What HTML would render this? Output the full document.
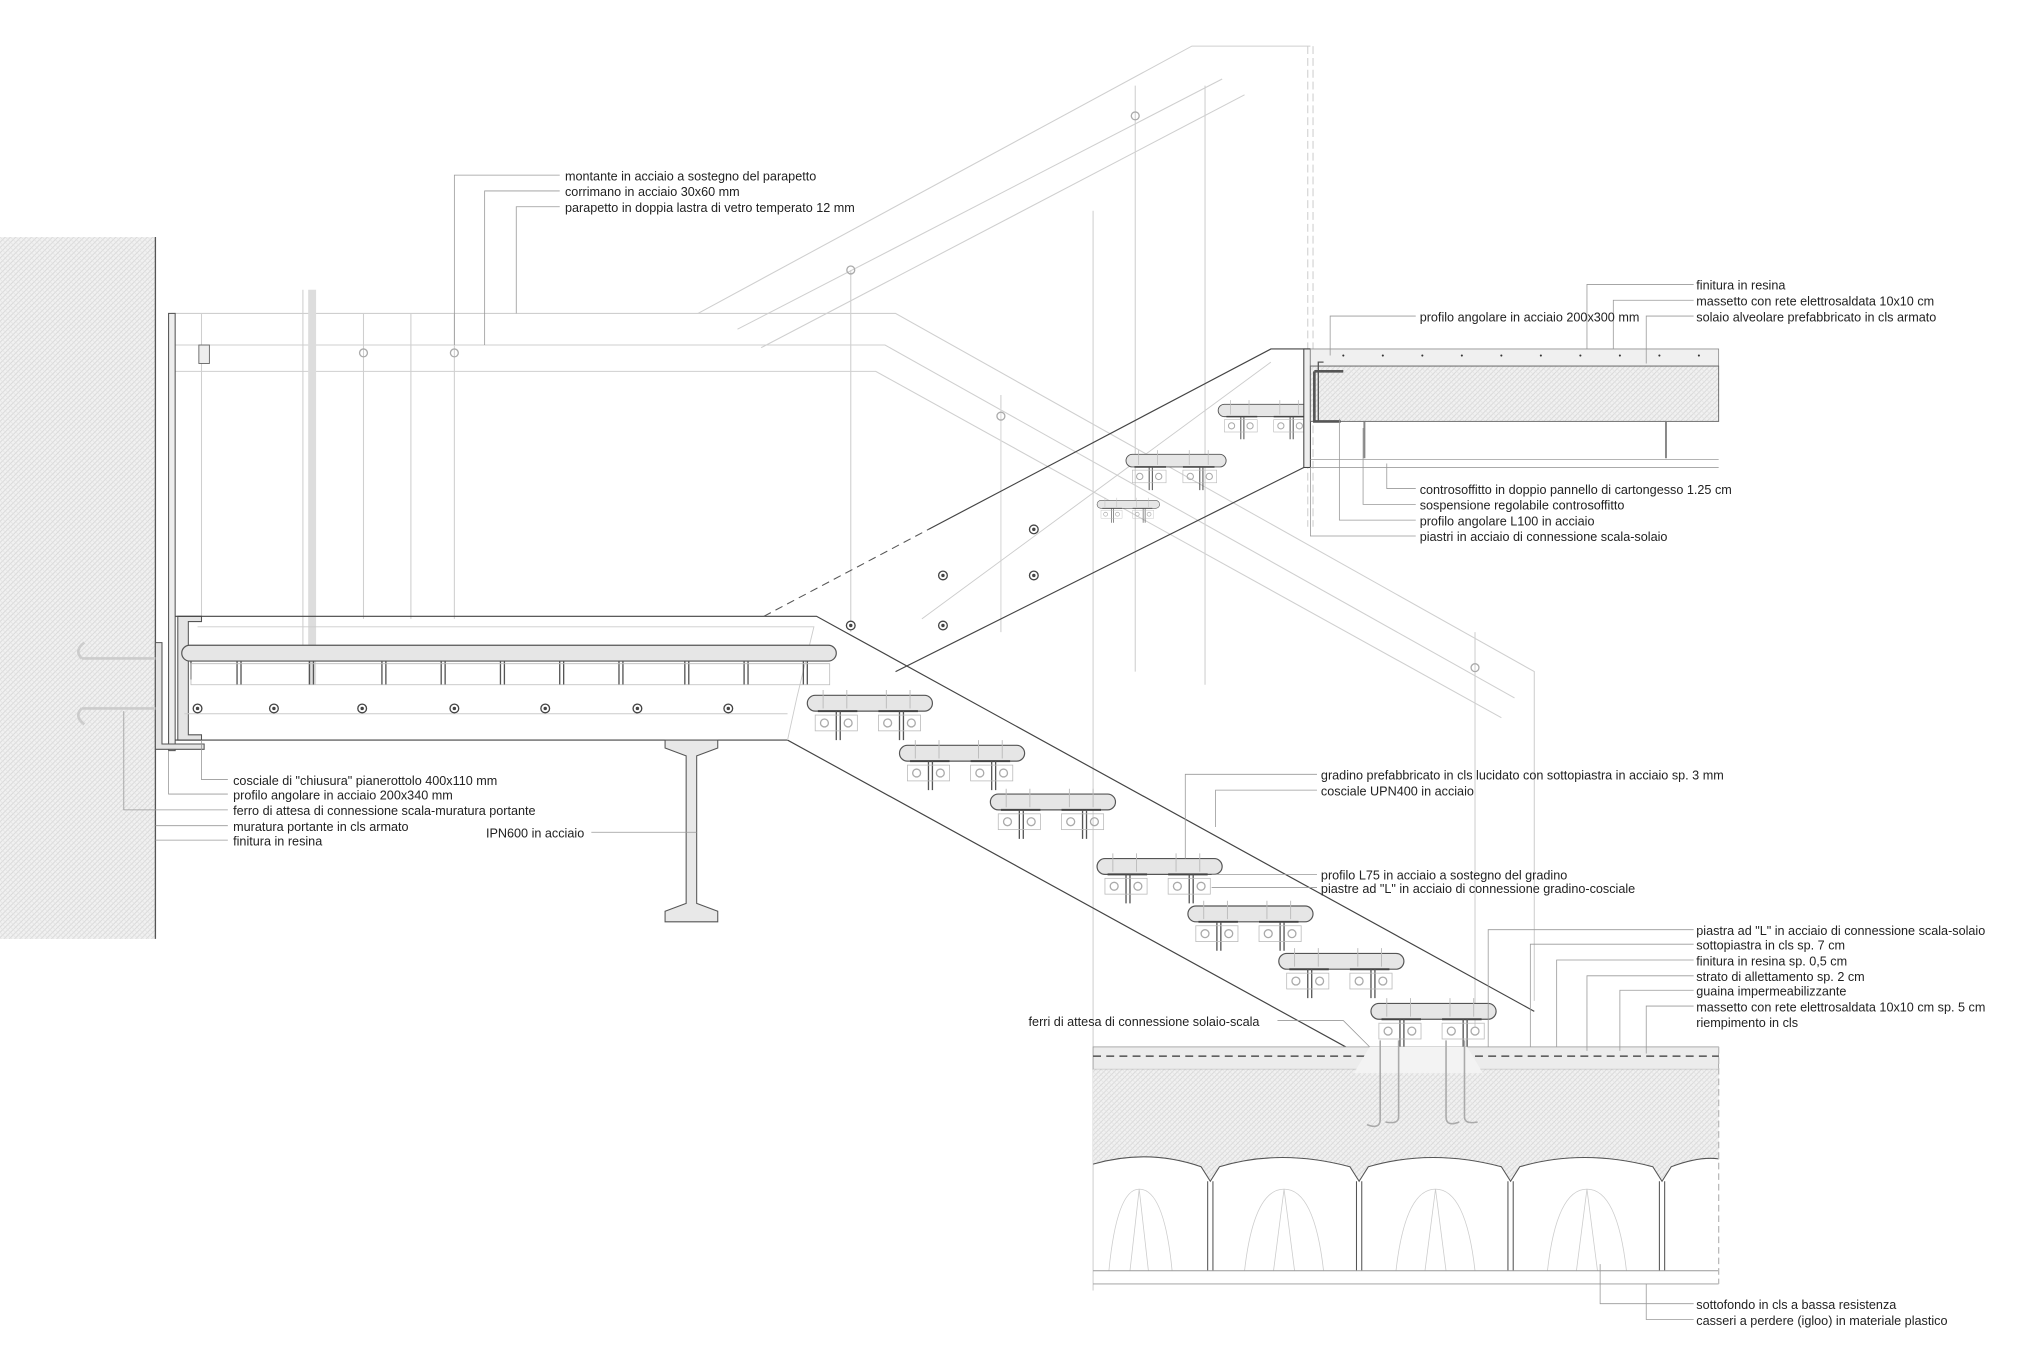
<!DOCTYPE html>
<html><head><meta charset="utf-8"><style>
html,body{margin:0;padding:0;background:#fff;}
svg{display:block}
text{font-family:"Liberation Sans",sans-serif;font-size:9.6px;fill:#222}
</style></head><body>
<svg width="2040" height="1359" viewBox="0 0 1549 1032" preserveAspectRatio="none" xmlns="http://www.w3.org/2000/svg">
<defs>
<pattern id="h" width="4" height="4" patternUnits="userSpaceOnUse">
<rect width="4" height="4" fill="#f1f1f1"/><path d="M0 4L4 0" stroke="#d6d6d6" stroke-width="0.6"/><path d="M0 0L4 4" stroke="#e2e2e2" stroke-width="0.5"/>
</pattern>
<g id="step">
<rect x="0" y="0" width="95" height="12" rx="6" fill="#e6e6e6" stroke="#555" stroke-width="0.9"/>
<path d="M8 12h30M54 12h30" stroke="#444" stroke-width="1.5"/>
<path d="M22 12v22M25 12v22M70 12v22M73 12v22" stroke="#555" stroke-width="1"/>
<rect x="6" y="15" width="32" height="12" fill="none" stroke="#bbb" stroke-width="0.6"/>
<rect x="54" y="15" width="32" height="12" fill="none" stroke="#bbb" stroke-width="0.6"/>
<circle cx="13" cy="21" r="3" fill="none" stroke="#aaa"/><circle cx="31" cy="21" r="3" fill="none" stroke="#aaa"/>
<circle cx="61" cy="21" r="3" fill="none" stroke="#aaa"/><circle cx="79" cy="21" r="3" fill="none" stroke="#aaa"/>
<path d="M12 -4v14M30 -4v14M60 -4v14M78 -4v14" stroke="#bbb" stroke-width="0.7"/>
</g>
<g id="bolt"><circle r="3.3" fill="#fff" stroke="#444"/><circle r="1.3" fill="#444"/></g>
</defs>

<!-- wall -->
<rect x="0" y="180" width="118" height="533" fill="url(#h)"/>
<line x1="118" y1="180" x2="118" y2="713" stroke="#555" stroke-width="1"/>

<!-- railing ghost lines -->
<g stroke="#cfcfcf" stroke-width="0.8" fill="none">
<path d="M130 238H680L1165 510V760"/>
<path d="M130 262H672L1150 530"/>
<path d="M130 282H665L1140 545"/>
<path d="M530 238L905 35H995"/>
<path d="M560 250L928 60"/>
<path d="M578 264L945 72"/>
<path d="M153 238V470M230 220V500M276 238V470M345 238V470M312 238V470M646 205V480M760 300V480M862 65V510M915 65V520M830 160V980M1120 480V780" />
<path d="M993 35V400M997 35V400" stroke-dasharray="6 3"/>
<path d="M237 220V520" stroke="#ddd" stroke-width="6"/>
<path d="M760 310V470" stroke="#ddd"/>
</g>
<g fill="none" stroke="#aaa"><circle cx="646" cy="205" r="3"/><circle cx="862" cy="88" r="3"/><circle cx="276" cy="268" r="3"/><circle cx="345" cy="268" r="3"/><circle cx="760" cy="316" r="3"/><circle cx="1120" cy="507" r="3"/></g>
<rect x="151" y="262" width="8" height="14" fill="#eee" stroke="#666" stroke-width="0.7"/>

<!-- vertical plate & angle -->
<rect x="128" y="238" width="5" height="332" fill="#eee" stroke="#555" stroke-width="0.8"/>
<path d="M118 488h5v77h32v4h-37z" fill="#e4e4e4" stroke="#555" stroke-width="0.8"/>
<path d="M135 468h18v4h-10v86h10v4h-18z" fill="#e4e4e4" stroke="#555" stroke-width="0.8"/>

<!-- landing beam + lower stringer -->
<path d="M133 468H620L1165 768" fill="none" stroke="#444" stroke-width="0.9"/>
<path d="M133 562H598L1040 805" fill="none" stroke="#444" stroke-width="0.9"/>
<path d="M150 476H618L605 530L598 562" fill="none" stroke="#ccc" stroke-width="0.7"/>
<path d="M140 542H598" stroke="#ccc" stroke-width="0.7"/>
<!-- upper stringer -->
<path d="M580 468L705 402" stroke="#555" stroke-width="0.8" stroke-dasharray="6 4" fill="none"/>
<path d="M705 402L965 265H995" stroke="#444" stroke-width="0.9" fill="none"/>
<path d="M680 510L990 355" stroke="#444" stroke-width="0.9" fill="none"/>
<path d="M700 470L965 275" stroke="#ccc" stroke-width="0.7" fill="none"/>

<!-- landing step bar -->
<rect x="138" y="490" width="497" height="12" rx="6" fill="#e6e6e6" stroke="#555" stroke-width="0.9"/>
<g stroke="#555" stroke-width="1">
<path d="M145 502v14M180 502v18M183 502v18M235 502v18M238 502v18M290 502v18M293 502v18M335 502v18M338 502v18M380 502v18M383 502v18M425 502v18M428 502v18M470 502v18M473 502v18M520 502v18M523 502v18M565 502v18M568 502v18M610 502v18M613 502v18"/>
</g>
<g fill="none" stroke="#bbb" stroke-width="0.6">
<path d="M145 504h485v16h-485z"/>
</g>
<g><use href="#bolt" x="150" y="538"/><use href="#bolt" x="208" y="538"/><use href="#bolt" x="275" y="538"/><use href="#bolt" x="345" y="538"/><use href="#bolt" x="414" y="538"/><use href="#bolt" x="484" y="538"/><use href="#bolt" x="553" y="538"/>
<use href="#bolt" x="716" y="437"/><use href="#bolt" x="785" y="437"/><use href="#bolt" x="716" y="475"/><use href="#bolt" x="646" y="475"/><use href="#bolt" x="785" y="402"/></g>
<path d="M118 500H62M62 500q-6 -6 2 -12M118 538H62M62 538q-6 6 2 12" stroke="#ccc" stroke-width="2" fill="none"/>

<!-- steps lower flight -->
<use href="#step" x="613" y="528"/><use href="#step" x="683" y="566"/><use href="#step" x="752" y="603"/><use href="#step" x="833" y="652"/><use href="#step" x="902" y="688"/><use href="#step" x="971" y="724"/><use href="#step" x="1041" y="762"/>
<!-- steps upper flight -->
<use href="#step" x="925" y="307" transform="translate(925 307) scale(0.78) translate(-925 -307)"/>
<use href="#step" x="855" y="345" transform="translate(855 345) scale(0.8) translate(-855 -345)"/>
<use href="#step" x="833" y="380" transform="translate(833 380) scale(0.5) translate(-833 -380)"/>

<!-- IPN beam -->
<path d="M505 562h40v6l-16 6v112l16 6v8h-40v-8l16-6V574l-16-6z" fill="#e8e8e8" stroke="#555" stroke-width="0.8"/>

<!-- upper slab -->
<rect x="990" y="265" width="5" height="90" fill="#eee" stroke="#444" stroke-width="0.8"/>
<rect x="995" y="265" width="310" height="13" fill="#f0f0f0" stroke="#888" stroke-width="0.6"/>
<rect x="995" y="278" width="310" height="42" fill="url(#h)" stroke="#666" stroke-width="0.7"/>
<path d="M998 282v38h20M998 282h22" stroke="#555" stroke-width="2" fill="none"/>
<path d="M1005 275h-4v45" stroke="#555" fill="none"/>
<path d="M995 349H1305M995 355H1305" stroke="#aaa" stroke-width="0.7"/>
<path d="M1036 320v28M1265 320v28" stroke="#888" stroke-width="1.5"/>
<g fill="#333"><circle cx="1020" cy="270" r="0.8"/><circle cx="1050" cy="270" r="0.8"/><circle cx="1080" cy="270" r="0.8"/><circle cx="1110" cy="270" r="0.8"/><circle cx="1140" cy="270" r="0.8"/><circle cx="1170" cy="270" r="0.8"/><circle cx="1200" cy="270" r="0.8"/><circle cx="1230" cy="270" r="0.8"/><circle cx="1260" cy="270" r="0.8"/><circle cx="1290" cy="270" r="0.8"/></g>

<!-- lower floor -->
<rect x="830" y="795" width="475" height="17" fill="#ececec" stroke="#999" stroke-width="0.6"/>
<path d="M830 802H1305" stroke="#333" stroke-width="1" stroke-dasharray="6 4"/>
<path d="M830 812H1305V880Q1290 878 1269 886L1262 897L1255 886Q1202 872 1154 886L1147 897L1140 886Q1087 872 1039 886L1032 897L1025 886Q972 872 926 886L919 897L912 886Q872 872 830 884Z" fill="url(#h)"/>
<path d="M1040 795l-12 20h98l-12 -20z" fill="#f3f3f3"/>
<path d="M830 884Q872 872 912 886L919 897L926 886Q972 872 1025 886L1032 897L1039 886Q1087 872 1140 886L1147 897L1154 886Q1202 872 1255 886L1262 897L1269 886Q1290 878 1305 880" stroke="#555" stroke-width="0.8" fill="none"/>
<g stroke="#555" stroke-width="0.8" fill="none">
<path d="M917 897V965M921 897V965M1030 897V965M1034 897V965M1145 897V965M1149 897V965M1260 897V965M1264 897V965"/>
</g>
<g stroke="#ccc" stroke-width="0.6" fill="none">
<path d="M842 965Q848 903 865 903Q884 903 890 965M858 965L865 903L872 965"/>
<path d="M945 965Q952 903 975 903Q998 903 1005 965M967 965L975 903L983 965"/>
<path d="M1060 965Q1067 903 1090 903Q1113 903 1120 965M1082 965L1090 903L1098 965"/>
<path d="M1175 965Q1182 903 1205 903Q1228 903 1235 965M1197 965L1205 903L1213 965"/>
</g>
<path d="M830 965H1305M830 975H1305" stroke="#999" stroke-width="0.7"/>
<path d="M1305 795V975" stroke="#bbb" stroke-dasharray="5 3"/>
<path d="M1048 790v60q0 8 -10 4M1062 790v58q0 6 -10 4M1098 790v58q0 8 10 4M1112 790v58q0 6 10 4" stroke="#aaa" stroke-width="1.2" fill="none"/>

<!-- leader lines -->
<g stroke="#999" stroke-width="0.6" fill="none">
<path d="M425 133H345V262M425 145H368V262M425 157H392V238"/>
<path d="M1286 216H1205V265M1286 228H1225V265M1286 240H1250V276M1075 240H1010V270"/>
<path d="M1075 371H1053V352M1075 383H1035V325M1075 395H1017V318M1075 407H995V355"/>
<path d="M173 592H153V562M173 603H128V570M173 615H94V540M173 627H118M173 638H118"/>
<path d="M449 632H529"/>
<path d="M1000 588H900V652M1000 600H923V628M1000 664H920M1000 674H920"/>
<path d="M1286 706H1130V795M1286 717H1162V795M1286 729H1182V795M1286 741H1205V798M1286 752H1230V798M1286 764H1250V800M970 775H1020L1040 795"/>
<path d="M1286 990H1215V960M1286 1002H1250V975"/>
</g>

<!-- labels -->
<text x="429" y="137">montante in acciaio a sostegno del parapetto</text>
<text x="429" y="149">corrimano in acciaio 30x60 mm</text>
<text x="429" y="161">parapetto in doppia lastra di vetro temperato 12 mm</text>
<text x="1288" y="220">finitura in resina</text>
<text x="1288" y="232">massetto con rete elettrosaldata 10x10 cm</text>
<text x="1288" y="244">solaio alveolare prefabbricato in cls armato</text>
<text x="1078" y="244">profilo angolare in acciaio 200x300 mm</text>
<text x="1078" y="375">controsoffitto in doppio pannello di cartongesso 1.25 cm</text>
<text x="1078" y="387">sospensione regolabile controsoffitto</text>
<text x="1078" y="399">profilo angolare L100 in acciaio</text>
<text x="1078" y="411">piastri in acciaio di connessione scala-solaio</text>
<text x="177" y="596">cosciale di "chiusura" pianerottolo 400x110 mm</text>
<text x="177" y="607">profilo angolare in acciaio 200x340 mm</text>
<text x="177" y="619">ferro di attesa di connessione scala-muratura portante</text>
<text x="177" y="631">muratura portante in cls armato</text>
<text x="177" y="642">finitura in resina</text>
<text x="369" y="636">IPN600 in acciaio</text>
<text x="1003" y="592">gradino prefabbricato in cls lucidato con sottopiastra in acciaio sp. 3 mm</text>
<text x="1003" y="604">cosciale UPN400 in acciaio</text>
<text x="1003" y="668">profilo L75 in acciaio a sostegno del gradino</text>
<text x="1003" y="678">piastre ad "L" in acciaio di connessione gradino-cosciale</text>
<text x="1288" y="710">piastra ad "L" in acciaio di connessione scala-solaio</text>
<text x="1288" y="721">sottopiastra in cls sp. 7 cm</text>
<text x="1288" y="733">finitura in resina sp. 0,5 cm</text>
<text x="1288" y="745">strato di allettamento sp. 2 cm</text>
<text x="1288" y="756">guaina impermeabilizzante</text>
<text x="1288" y="768">massetto con rete elettrosaldata 10x10 cm sp. 5 cm</text>
<text x="1288" y="780">riempimento in cls</text>
<text x="781" y="779">ferri di attesa di connessione solaio-scala</text>
<text x="1288" y="994">sottofondo in cls a bassa resistenza</text>
<text x="1288" y="1006">casseri a perdere (igloo) in materiale plastico</text>
</svg>
</body></html>
